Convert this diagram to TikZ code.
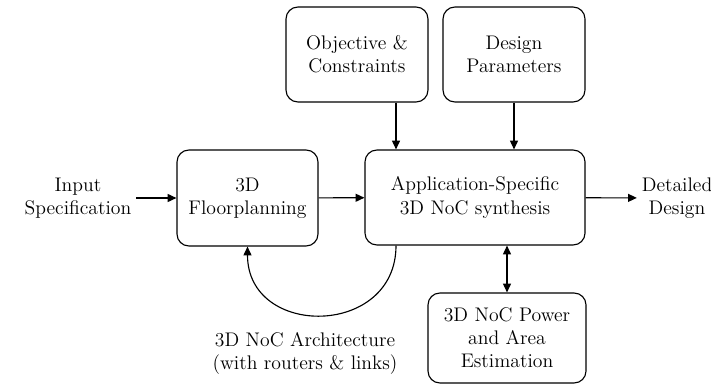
\documentclass[tikz,border=0pt]{standalone}
\usetikzlibrary{arrows.meta}

\begin{document}
\begin{tikzpicture}[
  x=0.025cm, y=-0.025cm,
  box/.style={draw, rounded corners=0.3cm, line width=0.8pt, align=center,
              inner sep=0pt, font=\fontsize{14}{16.4}\selectfont},
  label/.style={align=center, font=\fontsize{14}{16.4}\selectfont},
  arr/.style={line width=0.8pt, -{Triangle[length=2.2mm,width=2mm]}},
]

\useasboundingbox (0,0) rectangle (711,387);

\node[box, minimum width=3.55cm, minimum height=2.375cm] (obj) at (357,54.5) {Objective \&\\Constraints};
\node[box, minimum width=3.55cm, minimum height=2.375cm] (par) at (514,54.5) {Design\\Parameters};
\node[box, minimum width=3.525cm, minimum height=2.4cm] (floor) at (247.5,198) {3D\\Floorplanning};
\node[box, minimum width=5.5cm, minimum height=2.375cm] (synth) at (475,197.5) {Application-Specific\\3D NoC synthesis};
\node[box, minimum width=3.95cm, minimum height=2.25cm] (power) at (507,338) {3D NoC Power\\and Area\\Estimation};

\node[label] (input) at (78,198) {Input\\Specification};
\node[label] (output) at (677,198) {Detailed\\Design};
\node[label] (arch) at (305,353) {3D NoC Architecture\\(with routers \& links)};

\coordinate (tap) at ([xshift=0.975cm]obj.south);

\draw[arr] (input) -- (floor);
\draw[arr] (floor) -- (synth);
\draw[arr] (synth) -- (output);
\draw[arr] (tap) -- (tap |- synth.north);
\draw[arr] (par.south) -- (par.south |- synth.north);
\draw[line width=0.8pt, {Triangle[length=2.2mm,width=2mm]}-{Triangle[length=2.2mm,width=2mm]}]
  (power.north) -- (power.north |- synth.south);
\draw[arr] (synth.south -| tap) .. controls +(0,92) and +(0,92) .. (floor.south);

\end{tikzpicture}
\end{document}
